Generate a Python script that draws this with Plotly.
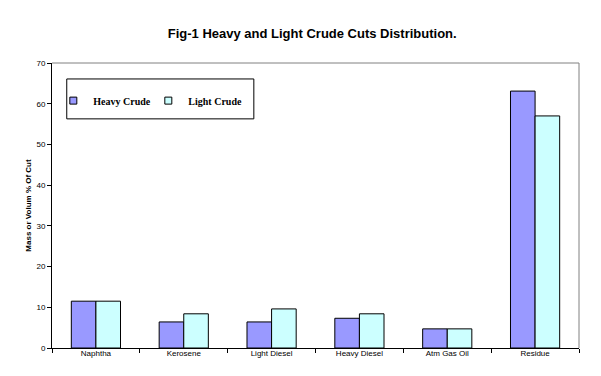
import plotly.graph_objects as go

categories = ["Naphtha", "Kerosene", "Light Diesel", "Heavy Diesel", "Atm Gas Oil", "Residue"]
heavy_crude = [11.5, 6.4, 6.4, 7.3, 4.7, 63.1]
light_crude = [11.5, 8.4, 9.6, 8.4, 4.7, 57.0]
y_ticks = [0, 10, 20, 30, 40, 50, 60, 70]

HEAVY = "#9999FF"
LIGHT = "#CCFFFF"

fig = go.Figure()
fig.add_trace(go.Bar(name="Heavy Crude", x=categories, y=heavy_crude, showlegend=False,
                     marker=dict(color=HEAVY, line=dict(color="black", width=1))))
fig.add_trace(go.Bar(name="Light Crude", x=categories, y=light_crude, showlegend=False,
                     marker=dict(color=LIGHT, line=dict(color="black", width=1))))
# legend entries with small square swatches
for name, col in [("Heavy Crude", HEAVY), ("Light Crude", LIGHT)]:
    fig.add_trace(go.Scatter(name="<b>" + name + "</b>", x=[None], y=[None], mode="markers",
                             marker=dict(symbol="square", size=7, color=col,
                                         line=dict(color="black", width=1))))

fig.update_layout(
    width=593, height=368,
    margin=dict(l=44, r=22, t=55, b=28, autoexpand=False),
    paper_bgcolor="white", plot_bgcolor="white",
    barmode="group", bargap=0.44, bargroupgap=0,
    title=dict(text="<b>Fig-1 Heavy and Light Crude Cuts Distribution.</b>",
               x=0.513, xanchor="center", y=0.932, yanchor="middle",
               font=dict(family="Arial, Liberation Sans", size=13, color="black")),
    font=dict(family="Arial, Liberation Sans", size=8, color="black"),
    showlegend=True,
    legend=dict(orientation="h", x=0.0025, y=0.868, xanchor="left", yanchor="middle",
                bgcolor="rgba(0,0,0,0)", borderwidth=0,
                entrywidth=50, entrywidthmode="pixels", itemwidth=30,
                font=dict(family="Liberation Serif, Times New Roman", size=10, color="black"),
                traceorder="normal"),
    shapes=[
        dict(type="rect", xref="paper", yref="paper", x0=0.028, x1=0.383, y0=0.804, y1=0.944,
             line=dict(color="black", width=1), fillcolor="rgba(0,0,0,0)", layer="above"),
        dict(type="line", xref="paper", yref="paper", x0=0, x1=1, y0=1, y1=1,
             line=dict(color="#808080", width=1)),
        dict(type="line", xref="paper", yref="paper", x0=1, x1=1, y0=0, y1=1,
             line=dict(color="#808080", width=1)),
    ],
)

fig.update_xaxes(showline=True, linecolor="black", linewidth=1, ticks="outside",
                 tickson="boundaries", ticklen=4, tickcolor="black", showgrid=False,
                 tickfont=dict(size=8), automargin=False, ticklabelstandoff=-3)
fig.update_yaxes(range=[0, 70], tickvals=y_ticks, showline=True, linecolor="black",
                 linewidth=1, ticks="outside", ticklen=4, tickcolor="black", showgrid=False,
                 zeroline=False, tickfont=dict(size=8), automargin=False,
                 title=dict(text="<b>Mass or Volum % Of Cut</b>", font=dict(size=8), standoff=3))

fig.write_html("out.html")
